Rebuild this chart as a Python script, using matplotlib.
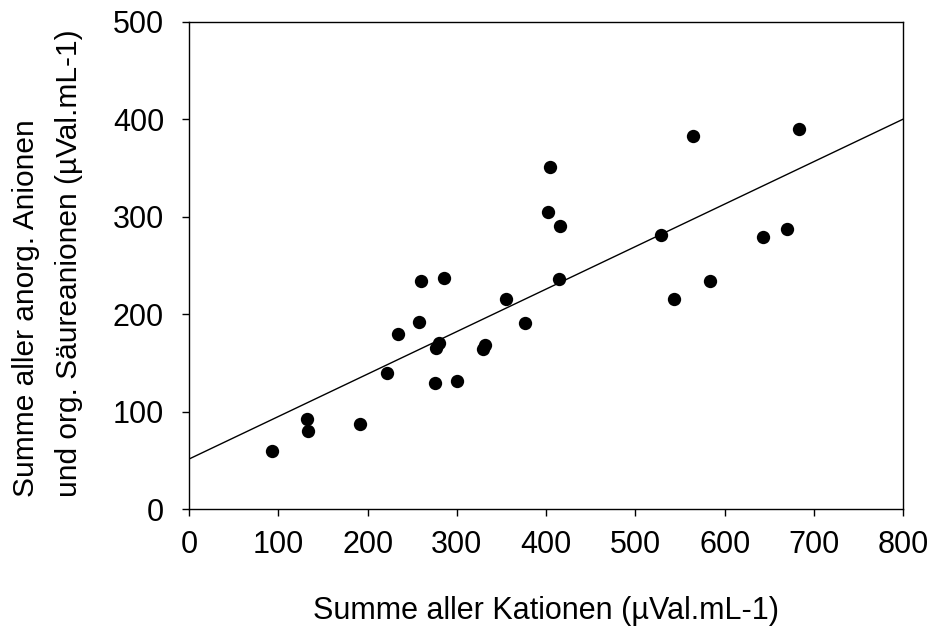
import numpy as np
import matplotlib.pyplot as plt

plt.rcParams['font.family'] = ['Liberation Sans', 'DejaVu Sans']

# Summe aller Kationen (x) / Summe Anionen (y)
kationen = [93, 132, 133, 192, 222, 234, 258, 260, 275, 277, 280, 286, 300, 329,
            331, 355, 376, 402, 404, 415, 414, 529, 543, 565, 583, 643, 670, 683]
anionen = [60, 92, 80, 87, 140, 180, 192, 234, 129, 165, 170, 237, 131, 164,
           168, 215, 191, 305, 351, 290, 236, 281, 215, 383, 234, 279, 287, 390]

# regression line
intercept = 51.3
slope = 0.436

xticks = [0, 100, 200, 300, 400, 500, 600, 700, 800]
yticks = [0, 100, 200, 300, 400, 500]

fs = 22

fig = plt.figure(figsize=(9.33, 6.3), dpi=100)
ax = fig.add_axes([0.2026, 0.192, 0.7655, 0.7735])

ax.scatter(kationen, anionen, s=92, color='black', zorder=3, linewidths=0)
xl = np.array([0, 800])
ax.plot(xl, intercept + slope * xl, color='black', lw=1.0)

ax.set_xlim(0, 800)
ax.set_ylim(0, 500)
ax.set_xticks(xticks)
ax.set_yticks(yticks)
ax.tick_params(direction='out', length=5, width=1, labelsize=fs)
ax.tick_params(axis='x', pad=10)
ax.tick_params(axis='y', pad=13)
for s in ax.spines.values():
    s.set_linewidth(1)

fig.text(0.5855, 0.018, 'Summe aller Kationen (µVal.mL-1)', fontsize=fs,
         ha='center', va='baseline')
fig.text(0.051, 0.211, 'Summe aller anorg. Anionen\nund org. Säureanionen (µVal.mL-1)',
         fontsize=21.5, rotation=90, ha='center', va='bottom', multialignment='left',
         linespacing=1.65)

fig.savefig('out.png', dpi=100)
